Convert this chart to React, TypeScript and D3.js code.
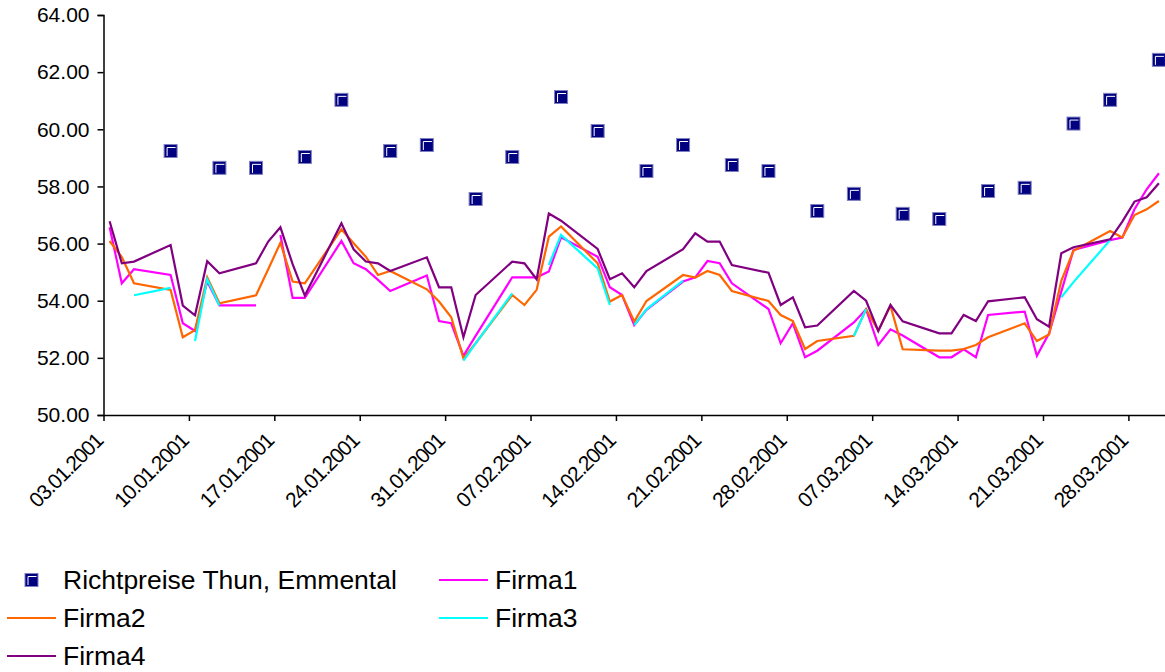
// React
import { useEffect, useRef } from 'react';

// Installed Packages
import * as d3 from 'd3';

// business days (line series)
const dates = [
    '03.01.2001', '04.01.2001', '05.01.2001', '08.01.2001', '09.01.2001', '10.01.2001', '11.01.2001', '12.01.2001',
    '15.01.2001', '16.01.2001', '17.01.2001', '18.01.2001', '19.01.2001', '22.01.2001', '23.01.2001', '24.01.2001',
    '25.01.2001', '26.01.2001', '29.01.2001', '30.01.2001', '31.01.2001', '01.02.2001', '02.02.2001', '05.02.2001',
    '06.02.2001', '07.02.2001', '08.02.2001', '09.02.2001', '12.02.2001', '13.02.2001', '14.02.2001', '15.02.2001',
    '16.02.2001', '19.02.2001', '20.02.2001', '21.02.2001', '22.02.2001', '23.02.2001', '26.02.2001', '27.02.2001',
    '28.02.2001', '01.03.2001', '02.03.2001', '05.03.2001', '06.03.2001', '07.03.2001', '08.03.2001', '09.03.2001',
    '12.03.2001', '13.03.2001', '14.03.2001', '15.03.2001', '16.03.2001', '19.03.2001', '20.03.2001', '21.03.2001',
    '22.03.2001', '23.03.2001', '26.03.2001', '27.03.2001', '28.03.2001', '29.03.2001', '30.03.2001'
];

const firma1 = [
    56.57, 54.61, 55.10, 54.90, 53.21, 52.94, 54.67, 53.84,
    53.84, null, 56.30, 54.10, 54.10, 56.09, 55.31, 55.10,
    54.73, 54.34, 54.88, 53.29, 53.21, 52.07, 52.77, 54.82,
    54.82, 54.82, 55.02, 56.22, 55.54, 54.47, 54.20, 53.15,
    53.68, 54.67, 54.82, 55.39, 55.31, 54.61, 53.71, 52.51,
    53.21, 52.02, 52.25, 53.24, 53.70, 52.45, 53.00, 52.78,
    52.02, 52.02, 52.30, 52.02, 53.50, 53.62, 52.07, 52.86,
    54.32, 55.78, 56.12, 56.21, 57.20, 57.90, 58.46
];

const firma2 = [
    56.09, 55.53, 54.61, 54.38, 52.72, 52.97, 54.82, 53.91,
    54.19, 55.10, 56.03, 54.67, 54.61, 56.50, 56.01, 55.54,
    54.90, 55.04, 54.40, 53.97, 53.42, 51.98, 52.51, 54.20,
    53.85, 54.38, 56.24, 56.60, 55.31, 53.97, 54.20, 53.27,
    53.99, 54.90, 54.81, 55.04, 54.90, 54.34, 53.99, 53.50,
    53.29, 52.31, 52.59, 52.77, 53.70, 52.95, 53.82, 52.30,
    52.25, 52.25, 52.31, 52.45, 52.72, 53.21, 52.59, 52.82,
    54.70, 55.75, 56.44, 56.21, 57.00, 57.20, 57.49
];

const firma3 = [
    null, null, 54.19, 54.45, null, 52.59, 54.75, 53.83,
    null, null, null, null, null, null, null, null,
    null, null, null, null, null, 51.90, 52.51, 54.26,
    null, null, 55.25, 56.30, 55.13, 53.85, null, 53.15,
    53.70, 54.70, null, null, null, null, null, null,
    null, null, null, 52.76, 53.70, null, null, null,
    null, null, null, null, null, null, null, null,
    54.12, 54.65, 56.12, null, null, null, null
];

const firma4 = [
    56.78, 55.31, 55.37, 55.95, 53.83, 53.49, 55.38, 54.96,
    55.31, 56.07, 56.57, 55.28, 54.18, 56.71, 55.80, 55.37,
    55.31, 55.04, 55.52, 54.47, 54.47, 52.72, 54.20, 55.37,
    55.31, 54.75, 57.05, 56.80, 55.81, 54.75, 54.96, 54.47,
    55.04, 55.80, 56.36, 56.07, 56.07, 55.25, 54.98, 53.85,
    54.12, 53.07, 53.13, 54.34, 54.00, 52.94, 53.85, 53.28,
    52.86, 52.86, 53.50, 53.29, 53.98, 54.12, 53.35, 53.09,
    55.66, 55.87, 56.15, 56.77, 57.47, 57.62, 58.11
];

// Richtpreise Thun, Emmental (markers only)
const richtDates = [
    '08.01.2001', '12.01.2001', '15.01.2001', '19.01.2001', '22.01.2001', '26.01.2001', '29.01.2001', '02.02.2001',
    '05.02.2001', '09.02.2001', '12.02.2001', '16.02.2001', '19.02.2001', '23.02.2001', '26.02.2001', '02.03.2001',
    '05.03.2001', '09.03.2001', '12.03.2001', '16.03.2001', '19.03.2001', '23.03.2001', '26.03.2001', '30.03.2001'
];
const richtValues = [
    59.24, 58.65, 58.65, 59.03, 61.03, 59.24, 59.45, 57.56,
    59.03, 61.13, 59.94, 58.54, 59.45, 58.75, 58.54, 57.14,
    57.74, 57.04, 56.86, 57.84, 57.95, 60.20, 61.03, 62.43
];

const xTickLabels = [
    '03.01.2001', '10.01.2001', '17.01.2001', '24.01.2001', '31.01.2001', '07.02.2001', '14.02.2001',
    '21.02.2001', '28.02.2001', '07.03.2001', '14.03.2001', '21.03.2001', '28.03.2001'
];
const yTicks = [50, 52, 54, 56, 58, 60, 62, 64];

const seriesNames = ['Firma1', 'Firma2', 'Firma3', 'Firma4'];
const seriesColors = ['#ff00ff', '#ff6600', '#00ffff', '#800080'];
const markerName = 'Richtpreise Thun, Emmental';

export default function App() {
    let ref = useRef<SVGSVGElement>(null);

    useEffect(() => {
        const svg = d3.select(ref.current);
        svg.selectAll('*').remove();

        const parse = d3.timeParse('%d.%m.%Y');
        const mid = (s: string) => d3.timeHour.offset(parse(s)!, 12);
        const font = 'Liberation Sans, Arial, sans-serif';

        const x = d3.scaleTime()
            .domain([parse('03.01.2001')!, parse('31.03.2001')!])
            .range([103.5, 1165]);
        const y = d3.scaleLinear().domain([50, 64]).range([415, 15]);

        // Y axis
        const yAxis = svg.append('g')
            .attr('transform', 'translate(103.5,0)')
            .call(d3.axisLeft(y).tickValues(yTicks).tickSize(6).tickFormat(d => (d as number).toFixed(2)));
        yAxis.select('.domain').attr('stroke', '#000').attr('stroke-width', 1.5);
        yAxis.selectAll('.tick line').attr('stroke', '#000').attr('stroke-width', 1.5);
        yAxis.selectAll('.tick text')
            .attr('x', -14)
            .attr('font-family', font)
            .attr('font-size', 21)
            .attr('fill', '#000');

        // X axis
        const xAxis = svg.append('g')
            .attr('transform', 'translate(0,415)')
            .call(d3.axisBottom(x)
                .tickValues(xTickLabels.map(s => parse(s)!))
                .tickSize(6)
                .tickSizeOuter(0)
                .tickFormat(d3.timeFormat('%d.%m.%Y') as any));
        xAxis.select('.domain').attr('stroke', '#000').attr('stroke-width', 1.5);
        xAxis.selectAll('.tick line').attr('stroke', '#000').attr('stroke-width', 1.5);
        xAxis.selectAll('.tick text')
            .attr('font-family', font)
            .attr('font-size', 21)
            .attr('letter-spacing', -1.1)
            .attr('fill', '#000')
            .attr('text-anchor', 'end')
            .attr('x', 0)
            .attr('y', 0)
            .attr('dy', '0.35em')
            .attr('transform', 'translate(-5,22) rotate(-45)');

        // Markers
        const mk = svg.append('g');
        richtDates.forEach((s, i) => {
            const cx = x(mid(s)), cy = y(richtValues[i]);
            drawMarker(mk, cx, cy);
        });

        // Lines
        const allSeries = [firma1, firma2, firma3, firma4];
        allSeries.forEach((vals, si) => {
            const pts = dates.map((s, i) => ({ d: mid(s), v: vals[i] }));
            const line = d3.line<{ d: Date, v: number | null }>()
                .defined(p => p.v != null)
                .x(p => x(p.d))
                .y(p => y(p.v as number));
            svg.append('path')
                .datum(pts)
                .attr('d', line)
                .attr('fill', 'none')
                .attr('stroke', seriesColors[si])
                .attr('stroke-width', 2.2)
                .attr('stroke-linejoin', 'miter');
        });

        // Legend
        const lg = svg.append('g').attr('font-family', font).attr('font-size', 26.5).attr('fill', '#000');
        drawMarker(lg, 31.5, 580);
        lg.append('text').attr('x', 63).attr('y', 580).attr('dy', '0.35em').text(markerName);
        const legendPos = [[439, 580], [7, 618], [439, 618], [7, 656]];
        seriesNames.forEach((n, i) => {
            const [lx, ly] = legendPos[i];
            lg.append('line')
                .attr('x1', lx).attr('x2', lx + 49)
                .attr('y1', ly).attr('y2', ly)
                .attr('stroke', seriesColors[i])
                .attr('stroke-width', 2);
            lg.append('text').attr('x', lx + 56).attr('y', ly).attr('dy', '0.35em').text(n);
        });
    }, []);

    return <svg ref={ref} width={1165} height={672} style={{ position: 'absolute', left: 0, top: 0, background: '#fff' }}></svg>;
}

function drawMarker(g: any, cx: number, cy: number) {
    const s = 13;
    g.append('rect')
        .attr('x', cx - s / 2).attr('y', cy - s / 2)
        .attr('width', s).attr('height', s)
        .attr('fill', '#000080')
        .attr('stroke', '#7f7fbf')
        .attr('stroke-width', 1);
    g.append('path')
        .attr('d', `M${cx - 3.5},${cy + 5} V${cy - 3.5} H${cx + 5}`)
        .attr('fill', 'none')
        .attr('stroke', '#ffffff')
        .attr('stroke-width', 1);
}
